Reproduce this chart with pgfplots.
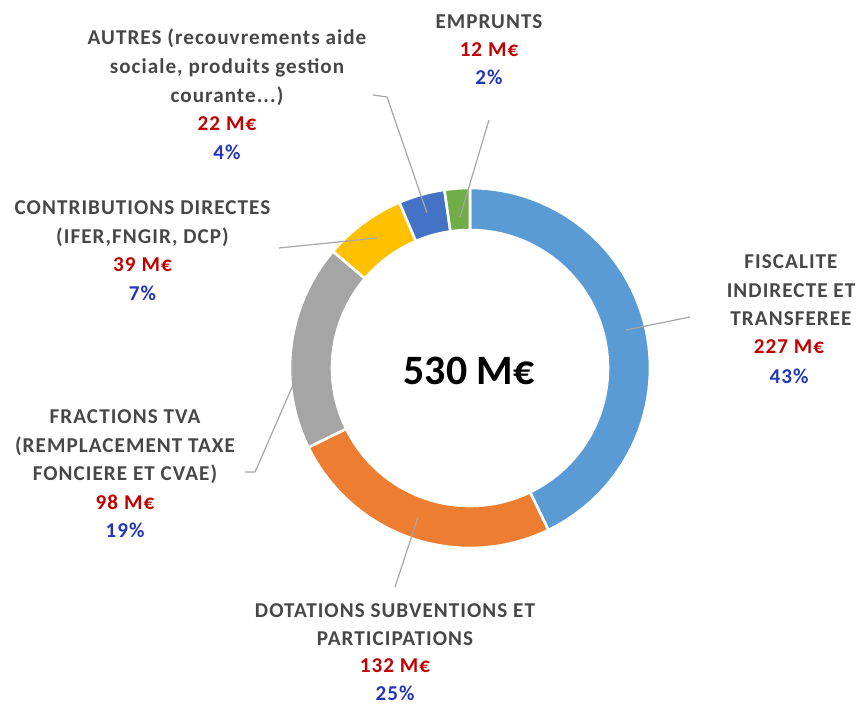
\documentclass[border=0pt]{standalone}
\usepackage{pgfplots}
\pgfplotsset{compat=1.18}
\usepackage{fontspec}
\setmainfont{Carlito}
\newfontfamily\lblfont{Carlito}[LetterSpace=5]
\definecolor{cFisc}{HTML}{5B9BD5}
\definecolor{cDot}{HTML}{ED7D31}
\definecolor{cTva}{HTML}{A5A5A5}
\definecolor{cContr}{HTML}{FFC000}
\definecolor{cAut}{HTML}{4472C4}
\definecolor{cEmp}{HTML}{70AD47}
\definecolor{lblgray}{HTML}{474747}
\definecolor{vred}{HTML}{C00000}
\definecolor{vblue}{HTML}{2436B8}
\definecolor{leader}{HTML}{A6A6A6}
% values (M EUR), total 530
\def\vFisc{227}\def\vDot{132}\def\vTva{98}\def\vContr{39}\def\vAut{22}\def\vEmp{12}
\def\vTot{530}
\newcommand\sector[3]{%
  \addplot[fill=#3, draw=white, line width=1.3pt, line join=miter, domain=0:3, samples=181, variable=\t]
  ({470+(180-42*min(max(\t-1,0),1))*cos(#1+(#2-#1)*(min(\t,1)-max(\t-2,0)))},
   {368-(180-42*min(max(\t-1,0),1))*sin(#1+(#2-#1)*(min(\t,1)-max(\t-2,0)))}) -- cycle;}
\newcommand\lbl[3]{\node[anchor=base, inner sep=0pt, font=\lblfont\fontsize{10.6}{12}\selectfont\bfseries] at (axis cs:#1,#2) {#3};}
\begin{document}
\begin{tikzpicture}
\useasboundingbox (0,0) rectangle (429bp,352bp);
\pgfmathsetmacro\aA{90}
\pgfmathsetmacro\aB{\aA-\vFisc/\vTot*360}
\pgfmathsetmacro\aC{\aB-\vDot/\vTot*360}
\pgfmathsetmacro\aD{\aC-\vTva/\vTot*360}
\pgfmathsetmacro\aE{\aD-\vContr/\vTot*360}
\pgfmathsetmacro\aF{\aE-\vAut/\vTot*360}
\pgfmathsetmacro\aG{\aF-\vEmp/\vTot*360}
\begin{axis}[at={(0,0)}, anchor=south west,
  width=429bp, height=352bp, scale only axis, hide axis, clip=false,
  xmin=0, xmax=858, ymin=0, ymax=704, y dir=reverse]
\sector{\aA}{\aB}{cFisc}
\sector{\aB}{\aC}{cDot}
\sector{\aC}{\aD}{cTva}
\sector{\aD}{\aE}{cContr}
\sector{\aE}{\aF}{cAut}
\sector{\aF}{\aG}{cEmp}
% leader lines
\draw[leader, line width=0.6bp] (axis cs:489,120) -- (axis cs:460,217);
\draw[leader, line width=0.6bp] (axis cs:373,95) -- (axis cs:387,97) -- (axis cs:427,213);
\draw[leader, line width=0.6bp] (axis cs:279,248) -- (axis cs:377,238);
\draw[leader, line width=0.6bp] (axis cs:245,472) -- (axis cs:255,472) -- (axis cs:293,385);
\draw[leader, line width=0.6bp] (axis cs:395,587) -- (axis cs:418,517);
\draw[leader, line width=0.6bp] (axis cs:690,317) -- (axis cs:626,330);
% labels
\begin{scope}[text=lblgray]
\lbl{489}{28.5}{EMPRUNTS}
\lbl{489}{56.5}{\textcolor{vred}{12 M€}}
\lbl{489}{84.5}{\textcolor{vblue}{2\%}}
\lbl{227}{44.5}{AUTRES (recouvrements aide}
\lbl{227}{73.5}{sociale, produits gestion}
\lbl{227}{102}{courante...)}
\lbl{227}{130.5}{\textcolor{vred}{22 M€}}
\lbl{227}{159}{\textcolor{vblue}{4\%}}
\lbl{142.5}{214.5}{CONTRIBUTIONS DIRECTES}
\lbl{142.5}{243}{(IFER,FNGIR, DCP)}
\lbl{142.5}{271.5}{\textcolor{vred}{39 M€}}
\lbl{142.5}{300}{\textcolor{vblue}{7\%}}
\lbl{125}{423.5}{FRACTIONS TVA}
\lbl{125}{452}{(REMPLACEMENT TAXE}
\lbl{125}{480.5}{FONCIERE ET CVAE)}
\lbl{125}{509}{\textcolor{vred}{98 M€}}
\lbl{125}{537}{\textcolor{vblue}{19\%}}
\lbl{395}{617}{DOTATIONS SUBVENTIONS ET}
\lbl{395}{645}{PARTICIPATIONS}
\lbl{395}{672.5}{\textcolor{vred}{132 M€}}
\lbl{395}{700}{\textcolor{vblue}{25\%}}
\lbl{791}{268}{FISCALITE}
\lbl{791}{297}{INDIRECTE ET}
\lbl{791}{325}{TRANSFEREE}
\lbl{789}{353}{\textcolor{vred}{227 M€}}
\lbl{789}{383}{\textcolor{vblue}{43\%}}
\end{scope}
\node[anchor=base, inner sep=0pt, font=\fontsize{21}{24}\selectfont\bfseries, text=black] at (axis cs:469,384) {530 M€};
\end{axis}
\end{tikzpicture}
\end{document}
